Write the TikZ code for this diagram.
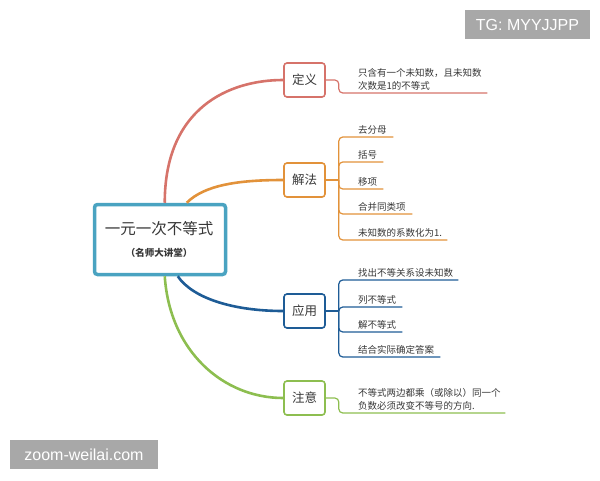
\documentclass[tikz,border=0pt]{standalone}
\usepackage{fontspec}
\setmainfont{Noto Sans CJK SC}
\newfontfamily\markfont{Liberation Sans}
\usepackage{tikz}
\usepackage{xcolor}
\usetikzlibrary{positioning,calc}
\definecolor{textdark}{RGB}{55,55,55}
\definecolor{rootblue}{RGB}{74,163,193}
\definecolor{defred}{RGB}{214,115,106}
\definecolor{solorange}{RGB}{226,146,58}
\definecolor{appblue}{RGB}{30,92,150}
\definecolor{notegreen}{RGB}{141,190,80}
\definecolor{markgray}{RGB}{168,168,168}
\tikzset{
  branch/.style={draw=#1, line width=1.6pt, rounded corners=3pt, fill=white, minimum width=41pt, minimum height=34pt, inner sep=0pt, font=\fontsize{12.5}{14}\selectfont, text=textdark},
  leaf/.style={anchor=south west, inner xsep=0pt, inner ysep=2.5pt, align=left, font=\fontsize{9.5}{13.5}\selectfont, text=textdark},
  curve/.style={draw=#1, line width=2.6pt},
  twig/.style={draw=#1, line width=1.2pt, rounded corners=4pt},
  watermark/.style={fill=markgray, text=white, font=\markfont\fontsize{16}{18}\selectfont, inner sep=0pt}
}

\begin{document}
\begin{tikzpicture}[x=1pt,y=-1pt]
\useasboundingbox (0,0) rectangle (600,480);

% centre
\node[draw=rootblue, line width=3.5pt, rounded corners=3pt, fill=white, minimum width=131pt, minimum height=70pt] (root) at (160,239.5) {};
\node[font=\fontsize{15.5}{17}\selectfont, text=textdark] (rootTitle) at (159,229) {一元一次不等式};
\node[font=\bfseries\fontsize{9.5}{11}\selectfont, text=textdark] (rootSub) at (159,253) {（名师大讲堂）};

% branches
\node[branch=defred] (defn) at (304.5,80) {定义};
\node[branch=solorange] (sol) at (304.5,180) {解法};
\node[branch=appblue] (app) at (304.5,311) {应用};
\node[branch=notegreen] (note) at (304.5,398) {注意};

\draw[curve=defred] ($(root.north west)+(72,0)$) .. controls +(0,-95) and +(-54,0) .. (defn.west);
\draw[curve=solorange] ($(root.north west)+(94,0)$) .. controls +(18,-18) and +(-44,0) .. (sol.west);
\draw[curve=appblue] ($(root.south west)+(85,0)$) .. controls +(15,22) and +(-50,0) .. (app.west);
\draw[curve=notegreen] ($(root.south west)+(72,0)$) .. controls +(5,75) and +(-60,0) .. (note.west);

% definition
\node[leaf, text width=129pt] (defText) at (358,93) {只含有一个未知数，且未知数\\次数是1的不等式};
\coordinate (defFork) at ($(defn.east)+(13,0)$);
\draw[twig=defred] (defn.east) -- (defFork) |- (defText.south east);

% solving
\node[leaf, text width=35pt] (sol1) at (358,137) {去分母};
\node[leaf, text width=25pt] (sol2) at (358,162) {括号};
\node[leaf, text width=25pt] (sol3) at (358,189) {移项};
\node[leaf, text width=54pt] (sol4) at (358,214) {合并同类项};
\node[leaf, text width=89pt] (sol5) at (358,240) {未知数的系数化为1.};
\coordinate (solFork) at ($(sol.east)+(13,0)$);
\draw[twig=solorange] (sol.east) -- (solFork);
\foreach \n in {sol1,sol2,sol3,sol4,sol5}
  \draw[twig=solorange] (solFork) |- (\n.south east);

% application
\node[leaf, text width=100pt] (app1) at (358,280) {找出不等关系设未知数};
\node[leaf, text width=44pt] (app2) at (358,307) {列不等式};
\node[leaf, text width=44pt] (app3) at (358,332) {解不等式};
\node[leaf, text width=82pt] (app4) at (358,357) {结合实际确定答案};
\coordinate (appFork) at ($(app.east)+(13,0)$);
\draw[twig=appblue] (app.east) -- (appFork);
\foreach \n in {app1,app2,app3,app4}
  \draw[twig=appblue] (appFork) |- (\n.south east);

% note
\node[leaf, text width=147pt] (noteText) at (358,413) {不等式两边都乘（或除以）同一个\\负数必须改变不等号的方向.};
\coordinate (noteFork) at ($(note.east)+(13,0)$);
\draw[twig=notegreen] (note.east) -- (noteFork) |- (noteText.south east);

% marks
\node[watermark, minimum width=125pt, minimum height=29pt] (markTG) at (527.5,24.5) {TG: MYYJJPP};
\node[watermark, minimum width=148pt, minimum height=29pt] (markSite) at (84,454.5) {zoom-weilai.com};
\end{tikzpicture}
\end{document}
